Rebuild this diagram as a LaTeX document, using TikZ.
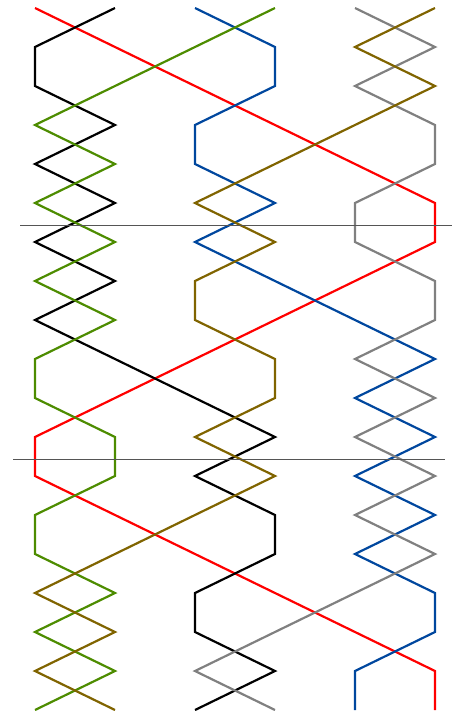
\documentclass[tikz,border=0pt]{standalone}
\usepackage{tikz}
\definecolor{sred}{HTML}{FF0000}
\definecolor{sblue}{HTML}{00479E}
\definecolor{sgreen}{HTML}{4D8C00}
\definecolor{sgrey}{HTML}{808080}
\definecolor{sbrown}{HTML}{806400}
\definecolor{rule}{HTML}{555555}
\tikzset{strand/.style={line width=2.2pt,line join=miter}, sep/.style={draw=rule,line width=1pt}}
\begin{document}
\begin{tikzpicture}
\useasboundingbox (0,0) rectangle (462pt,-716pt);
\begin{scope}[x=80pt,y=-39pt,shift={(-45pt,-8pt)}]
\draw[strand,sred] plot coordinates {(1,0) (2,1) (3,2) (4,3) (5,4) (6,5) (6,6) (5,7) (4,8) (3,9) (2,10) (1,11) (1,12) (2,13) (3,14) (4,15) (5,16) (6,17) (6,18)};
\draw[strand,black] plot coordinates {(2,0) (1,1) (1,2) (2,3) (1,4) (2,5) (1,6) (2,7) (1,8) (2,9) (3,10) (4,11) (3,12) (4,13) (4,14) (3,15) (3,16) (4,17) (3,18)};
\draw[strand,sblue] plot coordinates {(3,0) (4,1) (4,2) (3,3) (3,4) (4,5) (3,6) (4,7) (5,8) (6,9) (5,10) (6,11) (5,12) (6,13) (5,14) (6,15) (6,16) (5,17) (5,18)};
\draw[strand,sgreen] plot coordinates {(4,0) (3,1) (2,2) (1,3) (2,4) (1,5) (2,6) (1,7) (2,8) (1,9) (1,10) (2,11) (2,12) (1,13) (1,14) (2,15) (1,16) (2,17) (1,18)};
\draw[strand,sgrey] plot coordinates {(5,0) (6,1) (5,2) (6,3) (6,4) (5,5) (5,6) (6,7) (6,8) (5,9) (6,10) (5,11) (6,12) (5,13) (6,14) (5,15) (4,16) (3,17) (4,18)};
\draw[strand,sbrown] plot coordinates {(6,0) (5,1) (6,2) (5,3) (4,4) (3,5) (4,6) (3,7) (3,8) (4,9) (4,10) (3,11) (4,12) (3,13) (2,14) (1,15) (2,16) (1,17) (2,18)};
\end{scope}
\coordinate (l1a) at (20pt,-225pt);
\coordinate (l1b) at (452pt,-225pt);
\coordinate (l2a) at (13pt,-459pt);
\coordinate (l2b) at (445pt,-459pt);
\draw[sep] (l1a) -- (l1b);
\draw[sep] (l2a) -- (l2b);
\end{tikzpicture}
\end{document}
